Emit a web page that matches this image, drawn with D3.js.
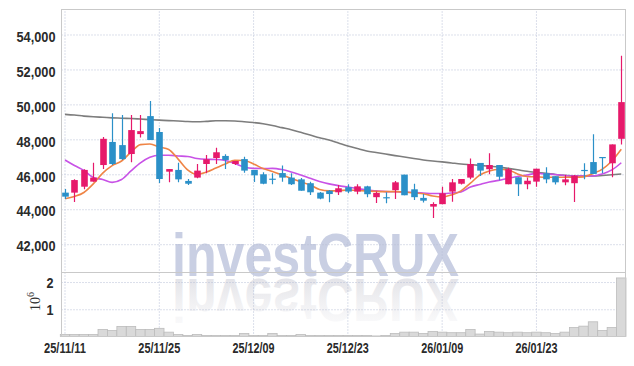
<!DOCTYPE html>
<html><head><meta charset="utf-8">
<script src="https://cdn.jsdelivr.net/npm/d3@7"></script>
<style>
html,body{margin:0;padding:0;background:#fff;}
svg{display:block;}
</style></head>
<body><svg id="c" width="634" height="366"></svg>
<script>
const dates = ["25/11/11","25/11/12","25/11/13","25/11/14","25/11/17","25/11/18","25/11/19","25/11/20","25/11/21","25/11/24",
"25/11/25","25/11/26","25/11/27","25/11/28","25/12/01","25/12/02","25/12/03","25/12/04","25/12/05","25/12/08",
"25/12/09","25/12/10","25/12/11","25/12/12","25/12/15","25/12/16","25/12/17","25/12/18","25/12/19","25/12/22",
"25/12/23","25/12/24","25/12/26","25/12/29","25/12/30","26/01/02","26/01/05","26/01/06","26/01/07","26/01/08",
"26/01/09","26/01/12","26/01/13","26/01/14","26/01/15","26/01/16","26/01/19","26/01/20","26/01/21","26/01/22",
"26/01/23","26/01/26","26/01/27","26/01/28","26/01/29","26/01/30","26/02/02","26/02/03","26/02/04","26/02/05"];
const open  = [44950,44950,45290,45580,46530,47850,47670,47160,48300,49330,48420,46150,46250,45620,45810,46590,46930,47050,46590,46870,
46250,46000,45750,46070,45810,45710,45490,44950,45060,44970,45260,45010,45310,44690,44690,45090,45980,45140,44650,44150,
44290,45010,45460,45810,46650,46290,46530,45430,45830,45430,45580,46060,45890,45540,45490,46250,46700,46990,46630,48030];
const high  = [45160,45710,46290,46660,48130,49490,49390,49390,49390,50190,48650,46300,46660,45730,46590,47100,47520,47140,46760,47010,
46250,46110,46060,46510,46060,45790,45580,44990,45100,45390,45430,45430,45350,45010,44970,45620,45980,45460,44870,44400,
45290,45730,45730,46910,46650,47200,46530,46380,45830,45810,46320,46400,45890,45960,45960,46630,48290,46990,47710,52780];
const low   = [44590,44420,45140,45580,46300,46530,46820,46690,48110,47960,45500,45540,45540,45390,45770,46060,46590,46300,46530,46090,
45560,45430,45430,45580,45390,45060,44820,44570,44400,44820,44910,44860,44690,44360,44340,44590,44800,44530,44380,43500,
44290,44430,45420,45710,45900,46000,45660,45430,44760,45140,45290,45490,45410,45370,44420,45710,46020,46060,45830,47710];
const close = [44720,45670,46250,45810,48030,46590,46870,48530,48470,47960,45730,46300,45710,45460,46210,46860,47260,46820,46760,46210,
45940,45460,45690,45810,45430,45060,44970,44610,44870,45200,45010,45310,44860,44930,44630,45540,44800,44690,44490,44300,
44910,45540,45730,46590,46210,46530,45860,46290,45430,45630,46320,45710,45540,45710,45920,46210,46020,46950,47710,50130];
// volume in millions of shares
const volume = [0.07,0.07,0.07,0.07,0.26,0.22,0.37,0.37,0.26,0.26,0.30,0.16,0.07,0.04,0.07,0.04,0.04,0.04,0.04,0.11,
0.04,0.04,0.11,0.04,0.04,0.07,0.04,0.04,0.04,0.04,0.04,0.04,0.04,0.02,0.04,0.11,0.16,0.16,0.11,0.18,
0.16,0.14,0.14,0.26,0.09,0.18,0.16,0.14,0.16,0.14,0.16,0.14,0.11,0.16,0.33,0.38,0.54,0.22,0.33,2.15];
const maShort = [44600,44730,44960,45450,46070,46500,46760,47270,47700,47730,47560,47420,46870,46250,46000,46130,46360,46590,46800,46790,
46590,46330,46160,45960,45760,45570,45390,45130,45050,45060,45100,45070,45050,45020,45010,45010,44990,44930,44890,44760,
44700,44820,45050,45490,45960,46190,46290,46250,46020,45870,45850,45830,45830,45830,45830,45850,46050,46300,46760,47430];
const maMid = [46820,46500,46220,45820,45700,45540,45700,46190,46650,46970,47090,47090,47050,47020,46900,46860,46850,46790,46620,46420,
46340,46330,46340,46270,46130,45960,45770,45590,45450,45350,45270,45190,45100,45050,45010,45000,44980,44960,44930,44900,
44900,44930,44990,45270,45420,45560,45650,45770,45870,45960,46050,46020,45990,45930,45900,45900,45900,46020,46250,46660];
const maLong = [49430,49390,49330,49290,49260,49230,49210,49190,49160,49130,49100,49070,49050,49020,49010,49030,49060,49060,49050,49010,
48960,48890,48790,48670,48550,48400,48250,48090,47960,47790,47620,47470,47330,47250,47160,47070,46990,46900,46820,46760,
46710,46650,46590,46550,46510,46460,46410,46340,46260,46170,46110,46060,45990,45940,45900,45900,45900,45930,45970,46020];
const priceTicks = [42000,44000,46000,48000,50000,52000,54000];
const volTicks = [1,2];
const dateTicks = ["25/11/11","25/11/25","25/12/09","25/12/23","26/01/09","26/01/23"];

const svg = d3.select("#c");
const L = 61.5, R = 625.5, T = 9.5, MID = 272.5, B = 336.5;
const FONT = "'Liberation Sans',Arial,sans-serif";

const x = d3.scaleBand().domain(dates).range([60.3, 626]).padding(0);
const bw = x.bandwidth();
const cx = d => x(d) + bw / 2;
const yP = d3.scaleLinear().domain([40380, 55430]).range([MID, T]);
const yV = d3.scaleLinear().domain([0, 2.35]).range([B, MID]);

const defs = svg.append("defs");
defs.append("clipPath").attr("id","clipP").append("rect").attr("x",L).attr("y",T).attr("width",R-L).attr("height",MID-T);
defs.append("clipPath").attr("id","clipAll").append("rect").attr("x",L).attr("y",T).attr("width",R-L).attr("height",B-T);
const gr = defs.append("linearGradient").attr("id","refl").attr("x1",0).attr("y1",0).attr("x2",0).attr("y2",1);
gr.append("stop").attr("offset","0%").attr("stop-color","#e8e8ec").attr("stop-opacity",0.1);
gr.append("stop").attr("offset","100%").attr("stop-color","#dcdce2").attr("stop-opacity",1);

// watermark
const wm = svg.append("g").attr("clip-path","url(#clipAll)");
const wmX = 172, wmY = 276;
wm.append("text").attr("x", wmX).attr("y", wmY)
  .attr("textLength", 287).attr("lengthAdjust","spacingAndGlyphs")
  .style("font-family", FONT).style("font-weight","bold").style("font-size","61px")
  .attr("fill","#c9cfe3").text("investCRUX");
wm.append("text").attr("x", wmX).attr("y", wmY)
  .attr("textLength", 287).attr("lengthAdjust","spacingAndGlyphs")
  .attr("transform", `translate(0,${2*wmY+3}) scale(1,-1)`)
  .style("font-family", FONT).style("font-weight","bold").style("font-size","61px")
  .attr("fill","url(#refl)").text("investCRUX");

// grids
const gridCol = "#b7bfd6";
const gY = svg.append("g").attr("transform",`translate(${L},0)`)
  .call(d3.axisLeft(yP).tickValues(priceTicks).tickSize(-(R-L)).tickFormat(""));
gY.select(".domain").remove();
gY.selectAll("line").attr("stroke",gridCol).attr("stroke-dasharray","1,2");
const gV = svg.append("g").attr("transform",`translate(${L},0)`)
  .call(d3.axisLeft(yV).tickValues(volTicks).tickSize(-(R-L)).tickFormat(""));
gV.select(".domain").remove();
gV.selectAll("line").attr("stroke",gridCol).attr("stroke-dasharray","1,2");
const gX = svg.append("g").attr("transform",`translate(0,${B})`)
  .call(d3.axisBottom(x).tickValues(dateTicks).tickSize(-(B-T)).tickFormat(""));
gX.select(".domain").remove();
gX.selectAll("line").attr("stroke",gridCol).attr("stroke-dasharray","1,2");

// volume bars
svg.append("g").selectAll("rect").data(dates).join("rect")
  .attr("x", d => x(d)).attr("width", bw)
  .attr("y", (d,i) => yV(volume[i])).attr("height", (d,i) => B - yV(volume[i]))
  .attr("fill","#d9d9d9").attr("stroke","#bcbcbc").attr("stroke-width",0.8);

// moving averages
const pg = svg.append("g").attr("clip-path","url(#clipP)");
const line = arr => d3.line().x((d,i) => cx(dates[i])).y(d => yP(d)).curve(d3.curveMonotoneX)(arr);
pg.append("path").attr("d", line(maLong)).attr("fill","none").attr("stroke","#7d7d7d").attr("stroke-width",1.6);
pg.append("path").attr("d", line(maMid)).attr("fill","none").attr("stroke","#c852e6").attr("stroke-width",1.6);
pg.append("path").attr("d", line(maShort)).attr("fill","none").attr("stroke","#ef8445").attr("stroke-width",1.6);

// candles
const UP = "#e6196a", DN = "#2b90c8";
const cw = 6.6;
const cg = pg.append("g").selectAll("g").data(dates).join("g");
cg.append("line")
  .attr("x1", d => Math.round(cx(d)) + 0.5).attr("x2", d => Math.round(cx(d)) + 0.5)
  .attr("y1", (d,i) => yP(high[i])).attr("y2", (d,i) => yP(low[i]))
  .attr("stroke", (d,i) => close[i] >= open[i] ? UP : DN).attr("stroke-width",1.2);
cg.append("rect")
  .attr("x", d => Math.round(cx(d)) + 0.5 - cw/2).attr("width", cw)
  .attr("y", (d,i) => yP(Math.max(open[i], close[i])))
  .attr("height", (d,i) => Math.max(1.2, Math.abs(yP(open[i]) - yP(close[i]))))
  .attr("fill", (d,i) => close[i] >= open[i] ? UP : DN);

// frame
const fr = svg.append("g").attr("fill","none").attr("stroke","#c9c9c9").attr("stroke-width",1);
fr.append("rect").attr("x",L).attr("y",T).attr("width",R-L).attr("height",B-T);
fr.append("line").attr("x1",L).attr("x2",R).attr("y1",MID).attr("y2",MID);

// axis labels
const ay = svg.append("g").attr("transform",`translate(${L},0)`)
  .call(d3.axisLeft(yP).tickValues(priceTicks).tickSize(0).tickPadding(6).tickFormat(d3.format(",")));
ay.select(".domain").remove();
ay.selectAll("text").attr("dy","0.45em").attr("textLength",39).attr("lengthAdjust","spacingAndGlyphs")
  .style("font-family",FONT).style("font-weight","bold").style("font-size","15px").attr("fill","#2a2a2a");
const av = svg.append("g").attr("transform",`translate(${L},0)`)
  .call(d3.axisLeft(yV).tickValues(volTicks).tickSize(0).tickPadding(8).tickFormat(d3.format("d")));
av.select(".domain").remove();
av.selectAll("text").attr("dy","0.36em").attr("textLength",7).attr("lengthAdjust","spacingAndGlyphs")
  .style("font-family",FONT).style("font-weight","bold").style("font-size","15px").attr("fill","#2a2a2a");
const ax = svg.append("g").attr("transform",`translate(0,${B})`)
  .call(d3.axisBottom(x).tickValues(dateTicks).tickSize(0).tickPadding(6));
ax.select(".domain").remove();
ax.selectAll("text").attr("textLength",42).attr("lengthAdjust","spacingAndGlyphs")
  .style("font-family",FONT).style("font-weight","bold").style("font-size","15px").attr("fill","#2a2a2a");

// 10^6 unit label
const ut = svg.append("text").attr("transform","translate(40,311) rotate(-90)")
  .style("font-family","'Liberation Serif','DejaVu Serif',serif").style("font-size","14px").attr("fill","#333");
ut.append("tspan").text("10");
ut.append("tspan").attr("dy","-6").style("font-size","10px").text("6");
</script></body></html>
